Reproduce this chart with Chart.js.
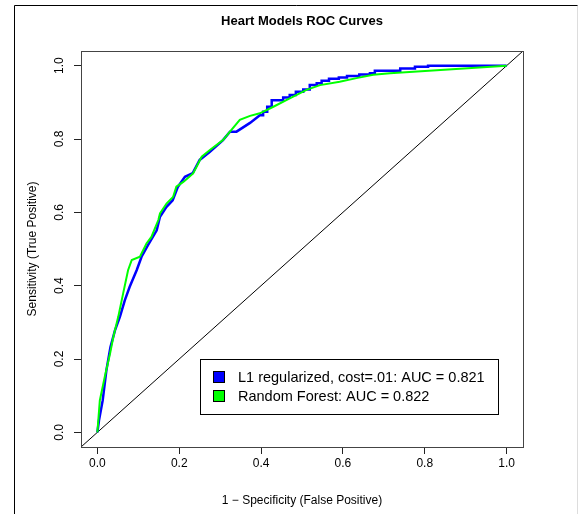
<!DOCTYPE html>
<html>
<head>
<meta charset="utf-8">
<script src="https://cdn.jsdelivr.net/npm/chart.js@4.4.1/dist/chart.umd.min.js"></script>
<style>
  html, body { margin: 0; padding: 0; background: #fff; }
  #wrap { position: relative; width: 578px; height: 514px; }
</style>
</head>
<body>
<div id="wrap"><canvas id="rocChart" width="578" height="514"></canvas></div>
<script>
const chartTitle = "Heart Models ROC Curves";
const xTitle = "1 \u2212 Specificity (False Positive)";
const yTitle = "Sensitivity (True Positive)";
const tickValues = [0, 0.2, 0.4, 0.6, 0.8, 1.0];
const tickLabels = ["0.0", "0.2", "0.4", "0.6", "0.8", "1.0"];
const seriesNames = ["L1 regularized, cost=.01: AUC = 0.821", "Random Forest: AUC = 0.822"];
const seriesColors = ["#0000ff", "#00ff00"];

// L1 regularized (blue) - false positive rate / sensitivity
const l1Fpr = [0, 0.004, 0.013, 0.022, 0.032, 0.043, 0.055, 0.067, 0.079, 0.096, 0.108, 0.124,
  0.145, 0.153, 0.169, 0.184, 0.197, 0.214, 0.233, 0.250, 0.275, 0.307, 0.324, 0.340, 0.373,
  0.397, 0.405, 0.405, 0.415, 0.415, 0.426, 0.426, 0.454, 0.454, 0.470, 0.470, 0.485, 0.485,
  0.503, 0.503, 0.519, 0.519, 0.536, 0.536, 0.548, 0.548, 0.566, 0.566, 0.590, 0.590, 0.610,
  0.610, 0.640, 0.640, 0.666, 0.666, 0.678, 0.678, 0.740, 0.740, 0.776, 0.776, 0.808, 0.808, 1.0];
const l1Tpr = [0, 0.033, 0.087, 0.169, 0.233, 0.278, 0.315, 0.360, 0.397, 0.442, 0.479, 0.511,
  0.551, 0.588, 0.615, 0.633, 0.670, 0.697, 0.707, 0.743, 0.765, 0.797, 0.820, 0.820, 0.844,
  0.865, 0.865, 0.874, 0.874, 0.888, 0.888, 0.906, 0.906, 0.913, 0.913, 0.920, 0.920, 0.929,
  0.929, 0.935, 0.935, 0.947, 0.947, 0.952, 0.952, 0.959, 0.959, 0.964, 0.964, 0.968, 0.968,
  0.972, 0.972, 0.976, 0.976, 0.979, 0.979, 0.986, 0.986, 0.992, 0.992, 0.997, 0.997, 1.0, 1.0];

// Random Forest (green)
const rfFpr = [0, 0.006, 0.018, 0.031, 0.039, 0.051, 0.063, 0.075, 0.084, 0.104, 0.120, 0.132,
  0.149, 0.153, 0.169, 0.185, 0.193, 0.210, 0.234, 0.255, 0.275, 0.307, 0.324, 0.348, 0.373,
  0.397, 0.430, 0.470, 0.511, 0.544, 0.592, 0.633, 0.674, 0.715, 1.0];
const rfTpr = [0, 0.087, 0.151, 0.215, 0.260, 0.315, 0.379, 0.442, 0.470, 0.479, 0.515, 0.533,
  0.579, 0.597, 0.624, 0.642, 0.670, 0.683, 0.706, 0.752, 0.770, 0.797, 0.820, 0.852, 0.863,
  0.870, 0.888, 0.911, 0.934, 0.947, 0.956, 0.966, 0.975, 0.979, 1.0];

// chance line y = x across the whole plot region
const chanceLine = [-0.04, 1.04];

const toPoints = (xs, ys) => xs.map((x, i) => ({ x: x, y: ys[i] }));

const framePlugin = {
  id: "frame",
  beforeDraw(chart) {
    const ctx = chart.ctx;
    ctx.save();
    ctx.fillStyle = "#fff";
    ctx.fillRect(0, 0, chart.width, chart.height);
    ctx.strokeStyle = "#000";
    ctx.lineWidth = 1;
    ctx.beginPath();
    ctx.moveTo(14.5, chart.height);
    ctx.lineTo(14.5, 5.5);
    ctx.lineTo(chart.width, 5.5);
    ctx.stroke();
    ctx.strokeStyle = "#ddd";
    ctx.beginPath();
    ctx.moveTo(577.5, 5.5);
    ctx.lineTo(577.5, chart.height);
    ctx.stroke();
    ctx.restore();
  },
  afterDraw(chart) {
    const ctx = chart.ctx;
    const a = chart.chartArea;
    ctx.save();
    // plot box
    ctx.strokeStyle = "#444";
    ctx.lineWidth = 1;
    ctx.strokeRect(Math.round(a.left) + 0.5, Math.round(a.top) + 0.5,
      Math.round(a.right - a.left), Math.round(a.bottom - a.top));

    // title
    ctx.fillStyle = "#000";
    ctx.font = "bold 13px 'Liberation Sans', Arial, sans-serif";
    ctx.textAlign = "center";
    ctx.textBaseline = "middle";
    ctx.fillText(chartTitle, (a.left + a.right) / 2, 21);

    // y tick labels, rotated like the reference
    const ys = chart.scales.y;
    ctx.font = "12px 'Liberation Sans', Arial, sans-serif";
    tickValues.forEach((v, i) => {
      ctx.save();
      ctx.translate(60, ys.getPixelForValue(v));
      ctx.rotate(-Math.PI / 2);
      ctx.fillText(tickLabels[i], 0, 0);
      ctx.restore();
    });

    // legend
    const lx = 200.5, ly = 359.5, lw = 298, lh = 55;
    ctx.strokeStyle = "#000";
    ctx.strokeRect(lx, ly, lw, lh);
    ctx.font = "14.5px 'Liberation Sans', Arial, sans-serif";
    ctx.textAlign = "left";
    seriesNames.forEach((name, i) => {
      const cy = 377 + i * 19;
      ctx.fillStyle = seriesColors[i];
      ctx.fillRect(213, cy - 5.5, 11, 11);
      ctx.strokeStyle = "#000";
      ctx.strokeRect(213.5, cy - 5.5, 11, 11);
      ctx.fillStyle = "#000";
      ctx.fillText(name, 238, cy + 0.5);
    });
    ctx.restore();
  }
};

const axisFont = { family: "'Liberation Sans', Arial, sans-serif", size: 12 };

new Chart(document.getElementById("rocChart"), {
  type: "scatter",
  data: {
    datasets: [
      {
        label: seriesNames[1],
        data: toPoints(rfFpr, rfTpr),
        showLine: true,
        borderColor: seriesColors[1],
        borderWidth: 2,
        pointRadius: 0,
        tension: 0,
        order: 0
      },
      {
        label: seriesNames[0],
        data: toPoints(l1Fpr, l1Tpr),
        showLine: true,
        borderColor: seriesColors[0],
        borderWidth: 2.5,
        pointRadius: 0,
        tension: 0,
        order: 1
      },
      {
        label: "chance",
        data: toPoints(chanceLine, chanceLine),
        showLine: true,
        borderColor: "#000",
        borderWidth: 1,
        pointRadius: 0,
        order: 2
      }
    ]
  },
  options: {
    responsive: false,
    animation: false,
    events: [],
    layout: { padding: { top: 51, right: 55, bottom: 0, left: 0 } },
    plugins: {
      legend: { display: false },
      tooltip: { enabled: false }
    },
    scales: {
      x: {
        type: "linear",
        min: -0.04,
        max: 1.04,
        afterBuildTicks: (s) => { s.ticks = tickValues.map(v => ({ value: v })); },
        afterFit: (s) => { s.height = 67; },
        ticks: {
          font: axisFont,
          color: "#000",
          padding: 2,
          maxRotation: 0,
          callback: (v) => tickLabels[tickValues.indexOf(v)]
        },
        grid: { drawOnChartArea: false, drawTicks: true, tickLength: 7, color: "#222" },
        border: { display: true, color: "#444" },
        title: { display: true, text: xTitle, font: axisFont, color: "#000", padding: { top: 0, bottom: 6 } }
      },
      y: {
        type: "linear",
        min: -0.04,
        max: 1.04,
        afterBuildTicks: (s) => { s.ticks = tickValues.map(v => ({ value: v })); },
        afterFit: (s) => { s.width = 81; },
        ticks: { display: false },
        grid: { drawOnChartArea: false, drawTicks: true, tickLength: 7, color: "#222" },
        border: { display: true, color: "#444" },
        title: { display: true, text: yTitle, font: axisFont, color: "#000", padding: { top: 25, bottom: 0 } }
      }
    }
  },
  plugins: [framePlugin]
});
</script>
</body>
</html>
